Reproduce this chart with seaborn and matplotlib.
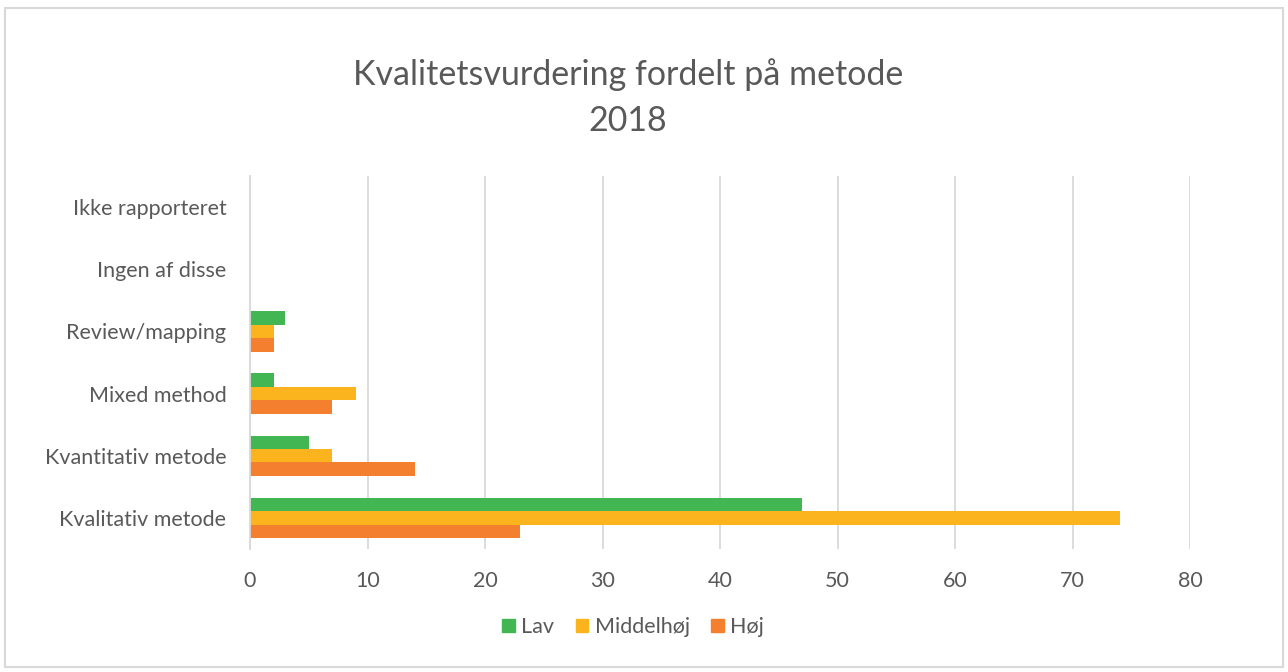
import matplotlib
matplotlib.use("Agg")
import matplotlib.pyplot as plt
import seaborn as sns
import pandas as pd
from matplotlib.patches import Rectangle

categories = ["Ikke rapporteret", "Ingen af disse", "Review/mapping", "Mixed method",
              "Kvantitativ metode", "Kvalitativ metode"]
series = ["Lav", "Middelhøj", "Høj"]
lav = [0, 0, 3, 2, 5, 47]
middelhoj = [0, 0, 2, 9, 7, 74]
hoj = [0, 0, 2, 7, 14, 23]
colors = ["#41B652", "#FBB41D", "#F37F2F"]
xticks = [0, 10, 20, 30, 40, 50, 60, 70, 80]

rows = []
for s, vals in zip(series, [lav, middelhoj, hoj]):
    for c, v in zip(categories, vals):
        rows.append({"Metode": c, "Kvalitet": s, "Antal": v})
df = pd.DataFrame(rows)

sns.set_style("white")
plt.rcParams["font.family"] = ["Lato", "DejaVu Sans"]
txt = "#595959"

fig = plt.figure(figsize=(12.88, 6.72), dpi=100)
ax = fig.add_axes([250/1288, (672-549)/672, (1190-250)/1288, (549-176)/672])
sns.barplot(data=df, y="Metode", x="Antal", hue="Kvalitet", order=categories,
            hue_order=series, palette=colors, orient="h", width=0.65,
            saturation=1, ax=ax, legend=False, linewidth=0)

ax.set_xlim(0, 80)
ax.set_xticks(xticks)
ax.set_xticklabels([str(t) for t in xticks])
ax.xaxis.grid(True, color="#D9D9D9", linewidth=1.3)
ax.yaxis.grid(False)
ax.set_axisbelow(True)
for sp in ["top", "right", "bottom"]:
    ax.spines[sp].set_visible(False)
ax.spines["left"].set_color("#D9D9D9")
ax.spines["left"].set_linewidth(1.3)
ax.set_xlabel("")
ax.set_ylabel("")
ax.tick_params(axis="both", length=0, labelsize=15.5, labelcolor=txt)
ax.tick_params(axis="x", pad=16)
ax.tick_params(axis="y", pad=17)

fig.text(0.4876, 1 - 75/672, "Kvalitetsvurdering fordelt på metode", ha="center",
         va="center", fontsize=24.5, color=txt)
fig.text(0.4876, 1 - 121/672, "2018", ha="center", va="center", fontsize=24.5, color=txt)

handles = [Rectangle((0, 0), 1, 1, color=c) for c in colors]
fig.legend(handles, series, loc="center", bbox_to_anchor=(0.4915, 1 - 627/672), ncol=3,
           frameon=False, fontsize=15.5, labelcolor=txt, handlelength=0.6,
           handleheight=0.6, handletextpad=0.28, columnspacing=1.0)

border = Rectangle((5/1288, 5/672), 1 - 10/1288, 1 - 13/672, transform=fig.transFigure,
                   fill=False, edgecolor="#D9D9D9", linewidth=1.5)
fig.patches.append(border)

fig.savefig("out.png", dpi=100)
